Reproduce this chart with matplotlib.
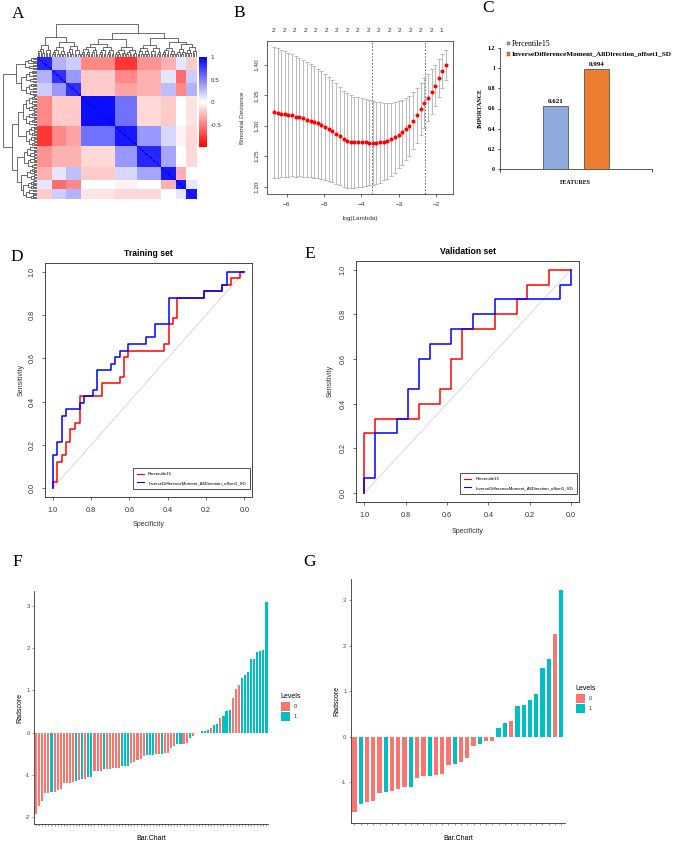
import numpy as np
import matplotlib
matplotlib.use("Agg")
import matplotlib.pyplot as plt
from matplotlib.colors import LinearSegmentedColormap, TwoSlopeNorm
from matplotlib.patches import Rectangle
from matplotlib.lines import Line2D
from matplotlib.collections import LineCollection

plt.rcParams['font.family'] = ['Liberation Sans', 'DejaVu Sans']
SERIF = ['Liberation Serif', 'DejaVu Serif']

# ======================= DATA =======================
# A: feature correlation heatmap (block structure)
block_sizes = [9, 9, 9, 21, 14, 15, 9, 6, 7]
block_corr = [
    [0.85, 0.30, 0.20, -0.45, -0.75, -0.40, -0.30, 0.10, -0.20],
    [0.30, 0.80, 0.40, -0.20, -0.45, -0.30, 0.10, -0.55, 0.20],
    [0.20, 0.40, 0.80, -0.20, -0.35, -0.30, 0.25, -0.45, 0.30],
    [-0.45, -0.20, -0.20, 0.95, 0.55, -0.15, -0.20, 0.00, -0.10],
    [-0.75, -0.45, -0.35, 0.55, 0.90, 0.40, 0.15, -0.05, -0.15],
    [-0.40, -0.30, -0.30, -0.15, 0.40, 0.85, 0.35, 0.00, -0.15],
    [-0.30, 0.10, 0.25, -0.20, 0.15, 0.35, 0.90, -0.30, 0.00],
    [0.10, -0.55, -0.45, 0.00, -0.05, 0.00, -0.30, 0.90, 0.10],
    [-0.20, 0.20, 0.30, -0.10, -0.15, -0.15, 0.00, 0.10, 0.90],
]
block_tree = (1.0, (0.60, 0, (0.46, 1, 2)),
              (0.72, (0.54, 3, 4), (0.57, 5, (0.45, 6, (0.40, 7, 8)))))
block_inner_height = [0.35, 0.30, 0.32, 0.40, 0.30, 0.36, 0.28, 0.25, 0.30]
corr_ticks = [-0.5, 0, 0.5, 1]
corr_tick_labels = ['-0.5', '0', '0.5', '1']

# B: LASSO cross-validation curve
log_lambda = [-6.34, -6.24, -6.14, -6.05, -5.95, -5.85, -5.75, -5.66, -5.56, -5.46,
              -5.36, -5.26, -5.17, -5.07, -4.97, -4.87, -4.78, -4.68, -4.58, -4.48,
              -4.38, -4.29, -4.19, -4.09, -3.99, -3.89, -3.80, -3.70, -3.60, -3.50,
              -3.40, -3.31, -3.21, -3.11, -3.01, -2.91, -2.82, -2.72, -2.62, -2.52,
              -2.42, -2.33, -2.23, -2.13, -2.03, -1.93, -1.84, -1.74]
cv_mean = [1.322, 1.321, 1.320, 1.319, 1.318, 1.317, 1.315, 1.314, 1.312, 1.310,
           1.308, 1.306, 1.304, 1.301, 1.298, 1.295, 1.291, 1.287, 1.283, 1.278,
           1.275, 1.274, 1.273, 1.273, 1.2725, 1.2725, 1.272, 1.272, 1.272, 1.2725,
           1.274, 1.275, 1.278, 1.281, 1.285, 1.289, 1.294, 1.300, 1.308, 1.317,
           1.327, 1.337, 1.346, 1.356, 1.366, 1.378, 1.390, 1.400]
cv_sd = [0.108, 0.1065, 0.105, 0.1035, 0.102, 0.1005, 0.099, 0.0975, 0.096, 0.0945,
         0.093, 0.0915, 0.090, 0.0885, 0.087, 0.0855, 0.084, 0.0825, 0.081, 0.0795,
         0.078, 0.0765, 0.075, 0.0738, 0.0725, 0.0712, 0.070, 0.0688, 0.0675, 0.066,
         0.064, 0.062, 0.060, 0.058, 0.055, 0.053, 0.051, 0.049, 0.047, 0.045,
         0.043, 0.041, 0.039, 0.037, 0.034, 0.031, 0.028, 0.025]
lambda_min = -3.73
lambda_1se = -2.31
nzero_pos = [-6.34, -6.06, -5.78, -5.50, -5.22, -4.94, -4.66, -4.38, -4.10,
             -3.82, -3.54, -3.26, -2.98, -2.70, -2.42, -2.14, -1.86]
nzero_labels = ['2'] * 16 + ['1']

# C: feature importance
feat_names = ['Percentile15', 'InverseDifferenceMoment_AllDirection_offset1_SD']
feat_importance = [0.621, 0.994]
feat_colors = ['#8FAADC', '#ED7D31']

# D: ROC training set (specificity, sensitivity vertices)
train_p15_spec = [1.000, 1.000, 0.977, 0.977, 0.953, 0.953, 0.930, 0.930, 0.907, 0.907,
                  0.884, 0.884, 0.860, 0.860, 0.744, 0.744, 0.651, 0.651, 0.628, 0.628,
                  0.605, 0.605, 0.419, 0.419, 0.395, 0.395, 0.372, 0.372, 0.349, 0.349,
                  0.209, 0.209, 0.116, 0.116, 0.070, 0.070, 0.023, 0.023, 0.000]
train_p15_sens = [0.000, 0.030, 0.030, 0.121, 0.121, 0.152, 0.152, 0.212, 0.212, 0.273,
                  0.273, 0.303, 0.303, 0.424, 0.424, 0.485, 0.485, 0.515, 0.515, 0.606,
                  0.606, 0.636, 0.636, 0.667, 0.667, 0.758, 0.758, 0.788, 0.788, 0.879,
                  0.879, 0.909, 0.909, 0.939, 0.939, 0.970, 0.970, 1.000, 1.000]
train_idm_spec = [1.000, 1.000, 0.977, 0.977, 0.953, 0.953, 0.930, 0.930, 0.860, 0.860,
                  0.837, 0.837, 0.791, 0.791, 0.767, 0.767, 0.698, 0.698, 0.674, 0.674,
                  0.651, 0.651, 0.605, 0.605, 0.512, 0.512, 0.465, 0.465, 0.395, 0.395,
                  0.209, 0.209, 0.116, 0.116, 0.093, 0.093, 0.000]
train_idm_sens = [0.000, 0.152, 0.152, 0.212, 0.212, 0.333, 0.333, 0.364, 0.364, 0.394,
                  0.394, 0.424, 0.424, 0.455, 0.455, 0.545, 0.545, 0.576, 0.576, 0.606,
                  0.606, 0.636, 0.636, 0.667, 0.667, 0.697, 0.697, 0.758, 0.758, 0.879,
                  0.879, 0.909, 0.909, 0.939, 0.939, 1.000, 1.000]

# E: ROC validation set
val_p15_spec = [1.000, 1.000, 0.947, 0.947, 0.737, 0.737, 0.632, 0.632, 0.579, 0.579,
                0.526, 0.526, 0.368, 0.368, 0.263, 0.263, 0.211, 0.211, 0.105, 0.105, 0.000]
val_p15_sens = [0.000, 0.267, 0.267, 0.333, 0.333, 0.400, 0.400, 0.467, 0.467, 0.600,
                0.600, 0.733, 0.733, 0.800, 0.800, 0.867, 0.867, 0.933, 0.933, 1.000, 1.000]
val_idm_spec = [1.000, 1.000, 0.947, 0.947, 0.842, 0.842, 0.789, 0.789, 0.737, 0.737,
                0.684, 0.684, 0.579, 0.579, 0.474, 0.474, 0.368, 0.368, 0.053, 0.053,
                0.000, 0.000]
val_idm_sens = [0.000, 0.067, 0.067, 0.267, 0.267, 0.333, 0.333, 0.467, 0.467, 0.600,
                0.600, 0.667, 0.667, 0.733, 0.733, 0.800, 0.800, 0.867, 0.867, 0.933,
                0.933, 1.000]

# F: Radscore training set
f_scores = [-1.92, -1.74, -1.62, -1.44, -1.43, -1.41, -1.40, -1.37, -1.33, -1.20,
            -1.19, -1.19, -1.18, -1.15, -1.12, -1.10, -1.09, -1.06, -1.05, -0.92,
            -0.91, -0.90, -0.87, -0.86, -0.86, -0.85, -0.85, -0.83, -0.80, -0.80,
            -0.79, -0.72, -0.69, -0.66, -0.62, -0.55, -0.52, -0.52, -0.52, -0.51,
            -0.50, -0.50, -0.49, -0.48, -0.36, -0.31, -0.28, -0.28, -0.27, -0.25,
            -0.12, -0.08, -0.02, -0.01, 0.04, 0.04, 0.05, 0.10, 0.18, 0.21,
            0.35, 0.40, 0.50, 0.54, 0.81, 1.02, 1.12, 1.29, 1.37, 1.43,
            1.74, 1.75, 1.91, 1.92, 1.95, 3.10]
f_levels = [0, 0, 0, 0, 0, 1, 0, 0, 0, 0,
            0, 0, 0, 1, 0, 1, 0, 1, 1, 0,
            0, 0, 1, 0, 0, 0, 0, 0, 1, 1,
            1, 0, 0, 0, 0, 0, 1, 1, 1, 0,
            0, 1, 0, 0, 0, 0, 1, 1, 0, 0,
            1, 0, 0, 0, 1, 1, 1, 0, 1, 1,
            0, 1, 1, 1, 0, 0, 0, 1, 1, 1,
            1, 1, 1, 1, 1, 1]

# G: Radscore validation set
g_scores = [-1.64, -1.48, -1.43, -1.40, -1.23, -1.20, -1.19, -1.14, -1.11, -1.11,
            -0.91, -0.86, -0.85, -0.83, -0.81, -0.62, -0.59, -0.55, -0.47, -0.21,
            -0.15, -0.10, -0.08, 0.19, 0.31, 0.35, 0.67, 0.70, 0.81, 0.95,
            1.52, 1.71, 2.26, 3.22]
g_levels = [0, 1, 0, 0, 0, 1, 0, 0, 0, 1,
            0, 0, 1, 0, 0, 0, 1, 0, 0, 0,
            1, 0, 0, 1, 1, 0, 1, 1, 1, 1,
            1, 1, 0, 1]
level_names = ['0', '1']
level_colors = ['#F8766D', '#00BFC4']

# ======================= FIGURE =======================
W, H = 678, 848
fig = plt.figure(figsize=(W / 100, H / 100), dpi=100)


def ax_px(l, t, r, b):
    return fig.add_axes([l / W, 1 - b / H, (r - l) / W, (b - t) / H])


def ftext(x, y, s, **kw):
    fig.text(x / W, 1 - y / H, s, **kw)


def frect(l, t, w, h, color):
    fig.patches.append(Rectangle((l / W, 1 - (t + h) / H), w / W, h / H,
                                 transform=fig.transFigure, color=color, lw=0))


# panel letters
for lab, (x, y) in {'A': (18, 14), 'B': (239, 13), 'C': (488, 8), 'D': (17, 257),
                    'E': (310, 254), 'F': (17, 562), 'G': (310, 562)}.items():
    ftext(x, y, lab, family=SERIF, fontsize=12.5, ha='center', va='center')

# ---------------- A ----------------
N = sum(block_sizes)
lab_idx = np.repeat(np.arange(len(block_sizes)), block_sizes)
corr = np.array(block_corr)[lab_idx][:, lab_idx]
np.fill_diagonal(corr, 1.0)
cmap = LinearSegmentedColormap.from_list('rwb', ['#FF0000', '#FFFFFF', '#0000FF'])
norm = TwoSlopeNorm(vmin=-0.96, vcenter=0, vmax=1)
axA = ax_px(36.7, 57, 196.7, 199)
im = axA.imshow(corr, cmap=cmap, norm=norm, aspect='auto', interpolation='nearest',
                extent=(0, N, N, 0))
axA.axis('off')

starts = np.concatenate([[0], np.cumsum(block_sizes)[:-1]])


def inner(lo, hi, hmax, n, segs):
    k = hi - lo
    if k == 1:
        return lo + 0.5, 0.0
    mid = lo + (k + 1) // 2
    p1, h1 = inner(lo, mid, hmax, n, segs)
    p2, h2 = inner(mid, hi, hmax, n, segs)
    h = hmax * np.log2(k) / np.log2(n)
    segs.append([(p1, h1), (p1, h), (p2, h), (p2, h2)])
    return (p1 + p2) / 2, h


def walk(node, segs):
    if isinstance(node, int):
        lo = starts[node]
        n = block_sizes[node]
        return inner(lo, lo + n, block_inner_height[node], n, segs)
    h, a, b = node
    p1, h1 = walk(a, segs)
    p2, h2 = walk(b, segs)
    segs.append([(p1, h1), (p1, h), (p2, h), (p2, h2)])
    return (p1 + p2) / 2, h


segs = []
walk(block_tree, segs)
axT = ax_px(36.7, 24, 196.7, 57)
axT.add_collection(LineCollection(segs, colors='#333333', linewidths=0.5))
axT.set_xlim(0, N)
axT.set_ylim(0, 1.0)
axT.axis('off')
axL = ax_px(2.5, 57, 36.7, 199)
axL.add_collection(LineCollection([[(h, p) for p, h in s] for s in segs],
                                  colors='#333333', linewidths=0.5))
axL.set_ylim(N, 0)
axL.set_xlim(1.0, 0)
axL.axis('off')

cax = ax_px(199.3, 57, 207.3, 147)
cb = fig.colorbar(im, cax=cax, ticks=corr_ticks)
cb.ax.set_yticklabels(corr_tick_labels)
cb.outline.set_visible(False)
cb.ax.tick_params(length=0, pad=2.5, labelsize=4.5, colors='#333333')

# ---------------- B ----------------
axB = ax_px(267, 41, 453, 194)
ll = np.array(log_lambda)
cm = np.array(cv_mean)
cs = np.array(cv_sd)
axB.errorbar(ll, cm, yerr=cs, fmt='none', ecolor='#B0B0B0', elinewidth=0.6,
             capsize=1.3, capthick=0.6)
axB.plot(ll, cm, 'o', color='red', ms=1.9, mec='red')
axB.axvline(lambda_min, color='#555555', lw=0.6, ls=(0, (2, 2)))
axB.axvline(lambda_1se, color='#555555', lw=0.6, ls=(0, (2, 2)))
xr = ll.max() - ll.min()
axB.set_xlim(ll.min() - 0.04 * xr, ll.max() + 0.04 * xr)
lo, hi = (cm - cs).min(), (cm + cs).max()
axB.set_ylim(lo - 0.04 * (hi - lo), hi + 0.04 * (hi - lo))
axB.set_xticks([-6, -5, -4, -3, -2])
axB.set_yticks([1.20, 1.25, 1.30, 1.35, 1.40])
axB.set_yticklabels(['1.20', '1.25', '1.30', '1.35', '1.40'], rotation=90, va='center')
axB.tick_params(labelsize=4.6, length=2.5, width=0.5, pad=3, colors='#333333')
for sp in axB.spines.values():
    sp.set_linewidth(0.6)
    sp.set_color('#444444')
for p, t in zip(nzero_pos, nzero_labels):
    axB.text(p, 1.067, t, transform=axB.get_xaxis_transform(), ha='center',
             va='center', fontsize=4.6, color='#333333')
ftext(360, 219, 'log(Lambda)', ha='center', va='center', fontsize=4.6, color='#333333')
ftext(242.7, 117.5, 'Binomial Deviance', ha='center', va='center', rotation=90,
      fontsize=4.6, color='#333333')

# ---------------- C ----------------
axC = ax_px(500, 48, 652, 169)
xc = np.array([-0.5, 0.5])
axC.bar(xc, feat_importance, width=0.6, color=feat_colors, edgecolor='#404040', lw=0.5)
for x, v in zip(xc, feat_importance):
    axC.annotate(f'{v:.3f}', (x, v), xytext=(0, 1.5), textcoords='offset points',
                 ha='center', va='bottom', family=SERIF, fontsize=5, weight='bold')
axC.set_xlim(-1.83, 1.83)
axC.set_ylim(0, 1.2)
axC.set_yticks([0, 0.2, 0.4, 0.6, 0.8, 1.0, 1.2])
axC.set_yticklabels(['0', '0.2', '0.4', '0.6', '0.8', '1', '1.2'])
axC.set_xticks([-1.83, 1.83])
axC.set_xticklabels(['', ''])
for t in axC.get_yticklabels():
    t.set_family(SERIF)
    t.set_weight('bold')
axC.tick_params(axis='y', labelsize=4.2, length=1.5, width=0.5, pad=2)
axC.tick_params(axis='x', length=2, width=0.5)
for s in ['top', 'right']:
    axC.spines[s].set_visible(False)
for s in ['left', 'bottom']:
    axC.spines[s].set_linewidth(0.6)
    axC.spines[s].set_color('#404040')
ftext(480, 108, 'IMPORTANCE', rotation=90, ha='center', va='center', family=SERIF,
      fontsize=4.2, weight='bold')
ftext(575, 183, 'FEATURES', ha='center', va='center', family=SERIF, fontsize=4.2,
      weight='bold')
leg_font = [(5.6, 'normal'), (5.2, 'bold')]
for i, (nm, c) in enumerate(zip(feat_names, feat_colors)):
    yy = 41.7 + i * 10.5
    fig.patches.append(Rectangle((506.5 / W, 1 - (yy + 3.6) / H), 3.6 / W, 3.6 / H,
                                 transform=fig.transFigure, facecolor=c,
                                 edgecolor='#404040', lw=0.3))
    ftext(511.5, yy + 1.8, nm, ha='left', va='center', family=SERIF,
          fontsize=leg_font[i][0], weight=leg_font[i][1])


# ---------------- D & E ----------------
def roc_panel(box, title, s1, e1, s2, e2, title_y, ylab_x, xlab_y, leg_bottom):
    ax = ax_px(*box)
    ax.plot([1, 0], [0, 1], color='#D3D3D3', lw=0.6)
    ax.plot(s1, e1, color='red', lw=1.1)
    ax.plot(s2, e2, color='blue', lw=1.1)
    ax.set_xlim(1.04, -0.04)
    ax.set_ylim(-0.04, 1.04)
    ax.set_xticks([1.0, 0.8, 0.6, 0.4, 0.2, 0.0])
    ax.set_xticklabels(['1.0', '0.8', '0.6', '0.4', '0.2', '0.0'])
    ax.set_yticks([0.0, 0.2, 0.4, 0.6, 0.8, 1.0])
    ax.set_yticklabels(['0.0', '0.2', '0.4', '0.6', '0.8', '1.0'], rotation=90, va='center')
    ax.tick_params(labelsize=5.2, length=2.5, width=0.5, pad=4.5, colors='#333333')
    for sp in ax.spines.values():
        sp.set_linewidth(0.7)
        sp.set_color('#444444')
    l, t, r, b = box
    ftext((l + r) / 2, title_y, title, ha='center', va='center', fontsize=6.2,
          weight='bold')
    ftext(ylab_x, (t + b) / 2, 'Sensitivity', rotation=90, ha='center', va='center',
          fontsize=5, color='#333333')
    ftext((l + r) / 2, xlab_y, 'Specificity', ha='center', va='center', fontsize=5,
          color='#333333')
    hd = [Line2D([], [], color='red', lw=0.8), Line2D([], [], color='blue', lw=0.8)]
    lg = ax.legend(hd, feat_names, loc='lower right', bbox_to_anchor=(0.99, leg_bottom),
                   fontsize=3.2, frameon=True, fancybox=False, edgecolor='#333333',
                   framealpha=1, handlelength=1.6, handletextpad=1.0, borderpad=0.9,
                   labelspacing=1.0, borderaxespad=0)
    lg.get_frame().set_linewidth(0.6)
    return ax


roc_panel((45, 263, 252, 497), 'Training set', train_p15_spec, train_p15_sens,
          train_idm_spec, train_idm_sens, 253, 20.7, 525, 0.034)
roc_panel((356, 260.7, 579.3, 502), 'Validation set', val_p15_spec, val_p15_sens,
          val_idm_spec, val_idm_sens, 251.5, 330, 531.7, 0.033)


# ---------------- F & G ----------------
def bar_panel(box, scores, levels, ylab_x, leg_x, leg_y):
    ax = ax_px(*box)
    x = np.arange(1, len(scores) + 1)
    ax.bar(x, scores, width=0.68, color=[level_colors[v] for v in levels], lw=0)
    lo, hi = min(scores), max(scores)
    pad = 0.05 * (hi - lo)
    ax.set_ylim(lo - pad, hi + pad)
    ax.set_xlim(0.4, len(scores) + 0.6)
    ax.set_xticks(x)
    ax.set_xticklabels([''] * len(scores))
    ticks = [t for t in [-2, -1, 0, 1, 2, 3] if lo - pad <= t <= hi + pad]
    ax.set_yticks(ticks)
    ax.set_yticklabels([str(t) for t in ticks])
    ax.tick_params(labelsize=4.3, length=1.5, width=0.4, pad=1.5, colors='#4D4D4D')
    for s in ['top', 'right']:
        ax.spines[s].set_visible(False)
    for s in ['left', 'bottom']:
        ax.spines[s].set_linewidth(0.6)
        ax.spines[s].set_color('#333333')
    l, t, r, b = box
    ftext(ylab_x, (t + b) / 2, 'Radscore', rotation=90, ha='center', va='center',
          fontsize=5)
    ftext((l + r) / 2, 839, 'Bar.Chart', ha='center', va='center', fontsize=5)
    ftext(leg_x, leg_y, 'Levels', ha='left', va='center', fontsize=5)
    for i, (nm, c) in enumerate(zip(level_names, level_colors)):
        frect(leg_x + 1, leg_y + 5 + i * 10.2, 9, 9, c)
        ftext(leg_x + 14, leg_y + 9.5 + i * 10.2, nm, ha='left', va='center',
              fontsize=4, color='#333333')
    return ax


bar_panel((34.3, 591, 268.3, 824.3), f_scores, f_levels, 20, 280, 697)
bar_panel((350.7, 579.2, 565, 822.7), g_scores, g_levels, 336.7, 575, 689)

fig.savefig('out.png', dpi=100)
